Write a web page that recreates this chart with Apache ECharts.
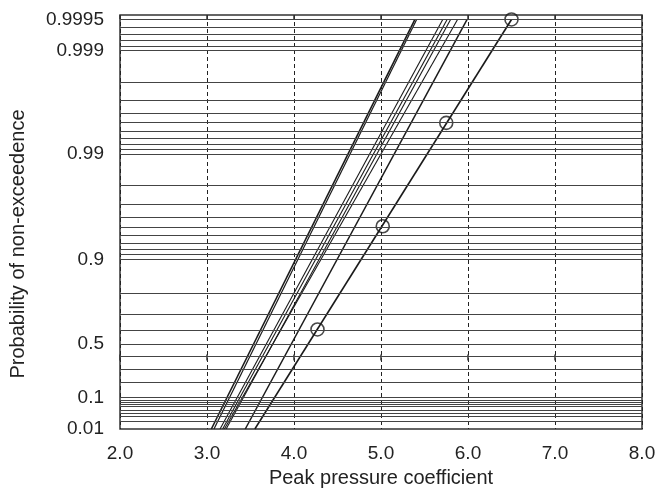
<!DOCTYPE html>
<html>
<head>
<meta charset="utf-8">
<title>Peak pressure coefficient – Gumbel probability plot</title>
<script src="https://cdn.jsdelivr.net/npm/echarts@6/dist/echarts.min.js"></script>
<style>
  html, body { margin: 0; padding: 0; background: #fff; }
  #chart { width: 660px; height: 496px; }
</style>
</head>
<body>
<div id="chart"></div>
<script>
// Fitted extreme-value lines: peak pressure coefficient at the bottom (P = 0.01)
// and at the top (P = 0.9995) of the probability paper.
const lineStartX = [3.05, 3.08, 3.15, 3.18, 3.22, 3.20, 3.44, 3.55];
const lineEndX   = [5.39, 5.41, 5.71, 5.76, 5.80, 5.88, 5.99, 6.50];
const lineWidths = [1.6, 1.2, 1.1, 1.1, 1.1, 1.1, 1.5, 1.6];
const PROB_START = 0.01;
const PROB_END = 0.9995;

// Marked points on the last line
const circleX = [4.27, 5.02, 5.75, 6.50];
const circleP = [0.606, 0.951, 0.995, 0.9995];

// Labelled probabilities on the vertical axis
const yTickProbs  = [0.01, 0.1, 0.5, 0.9, 0.99, 0.999, 0.9995];
const yTickLabels = ['0.01', '0.1', '0.5', '0.9', '0.99', '0.999', '0.9995'];

// Horizontal rulings of the probability paper
const gridProbs = [
  0.02, 0.03, 0.04, 0.05, 0.06, 0.07, 0.08, 0.09,
  0.1, 0.2, 0.3, 0.4, 0.5, 0.6, 0.7, 0.8, 0.9,
  0.91, 0.92, 0.93, 0.94, 0.95, 0.96, 0.97, 0.98, 0.99,
  0.991, 0.992, 0.993, 0.994, 0.995, 0.996, 0.997, 0.998, 0.999,
  0.9991, 0.9992, 0.9993, 0.9994, 0.9995
];

// Horizontal axis
const xMin = 2, xMax = 8, xStep = 1;

// Gumbel reduced variate: probability -> linear axis value
const gumbel = p => -Math.log(-Math.log(p));
const Y_MIN = gumbel(0.01);
const Y_MAX = 7.7;

const FONT = "'Liberation Sans', Arial, Helvetica, sans-serif";
const INK = '#1a1a1a';

const series = [];

lineStartX.forEach((x0, i) => {
  series.push({
    type: 'line',
    name: 'Line ' + (i + 1),
    data: [[x0, gumbel(PROB_START)], [lineEndX[i], gumbel(PROB_END)]],
    symbol: 'none',
    lineStyle: { color: INK, width: lineWidths[i] },
    z: 3,
    silent: true
  });
});

// probability rulings drawn as horizontal mark lines
series.push({
  type: 'line',
  name: 'rulings',
  data: [],
  symbol: 'none',
  z: 1,
  silent: true,
  markLine: {
    silent: true,
    symbol: 'none',
    label: { show: false },
    lineStyle: { color: '#444', width: 1, type: 'solid' },
    data: gridProbs.map(p => ({ yAxis: gumbel(p) })),
    animation: false
  }
});

series.push({
  type: 'scatter',
  name: 'points',
  data: circleX.map((x, i) => [x, gumbel(circleP[i])]),
  symbol: 'circle',
  symbolSize: 13,
  itemStyle: { color: 'rgba(0,0,0,0)', borderColor: INK, borderWidth: 1.6 },
  z: 4,
  silent: true
});

const chart = echarts.init(document.getElementById('chart'), null, { renderer: 'canvas' });

chart.setOption({
  animation: false,
  backgroundColor: '#fff',
  grid: {
    left: 117, right: 18, top: 15, bottom: 67,
    show: true,
    borderColor: '#333',
    borderWidth: 1.5,
    backgroundColor: 'transparent'
  },
  xAxis: [{
    type: 'value',
    min: xMin, max: xMax, interval: xStep,
    name: 'Peak pressure coefficient',
    nameLocation: 'middle',
    nameGap: 39,
    nameTextStyle: { fontFamily: FONT, fontSize: 20, color: '#222' },
    axisLine: { show: false },
    axisTick: { show: true, inside: true, length: 6, lineStyle: { color: '#333', width: 1.5 } },
    axisLabel: {
      fontFamily: FONT, fontSize: 19, color: '#222', margin: 15,
      formatter: v => v.toFixed(1)
    },
    splitLine: { show: true, lineStyle: { color: '#222', width: 1, type: [4, 3] } }
  }, {
    type: 'value',
    position: 'top',
    min: xMin, max: xMax, interval: xStep,
    axisLine: { show: false },
    axisTick: { show: true, inside: true, length: 4, lineStyle: { color: '#333', width: 1.5 } },
    axisLabel: { show: false },
    splitLine: { show: false }
  }],
  yAxis: {
    type: 'value',
    min: Y_MIN, max: Y_MAX,
    name: 'Probability of non-exceedence',
    nameLocation: 'middle',
    nameGap: 92,
    nameRotate: 90,
    nameTextStyle: { fontFamily: FONT, fontSize: 20, color: '#222', padding: [0, 44, 0, 0] },
    axisLine: { show: false },
    axisTick: { show: false },
    splitLine: { show: false },
    axisLabel: {
      fontFamily: FONT, fontSize: 19, color: '#222', margin: 16,
      customValues: yTickProbs.map(gumbel),
      formatter: v => {
        let best = 0, dist = Infinity;
        yTickProbs.forEach((p, i) => {
          const d = Math.abs(gumbel(p) - v);
          if (d < dist) { dist = d; best = i; }
        });
        return yTickLabels[best];
      }
    }
  },
  series: series
});
</script>
</body>
</html>
